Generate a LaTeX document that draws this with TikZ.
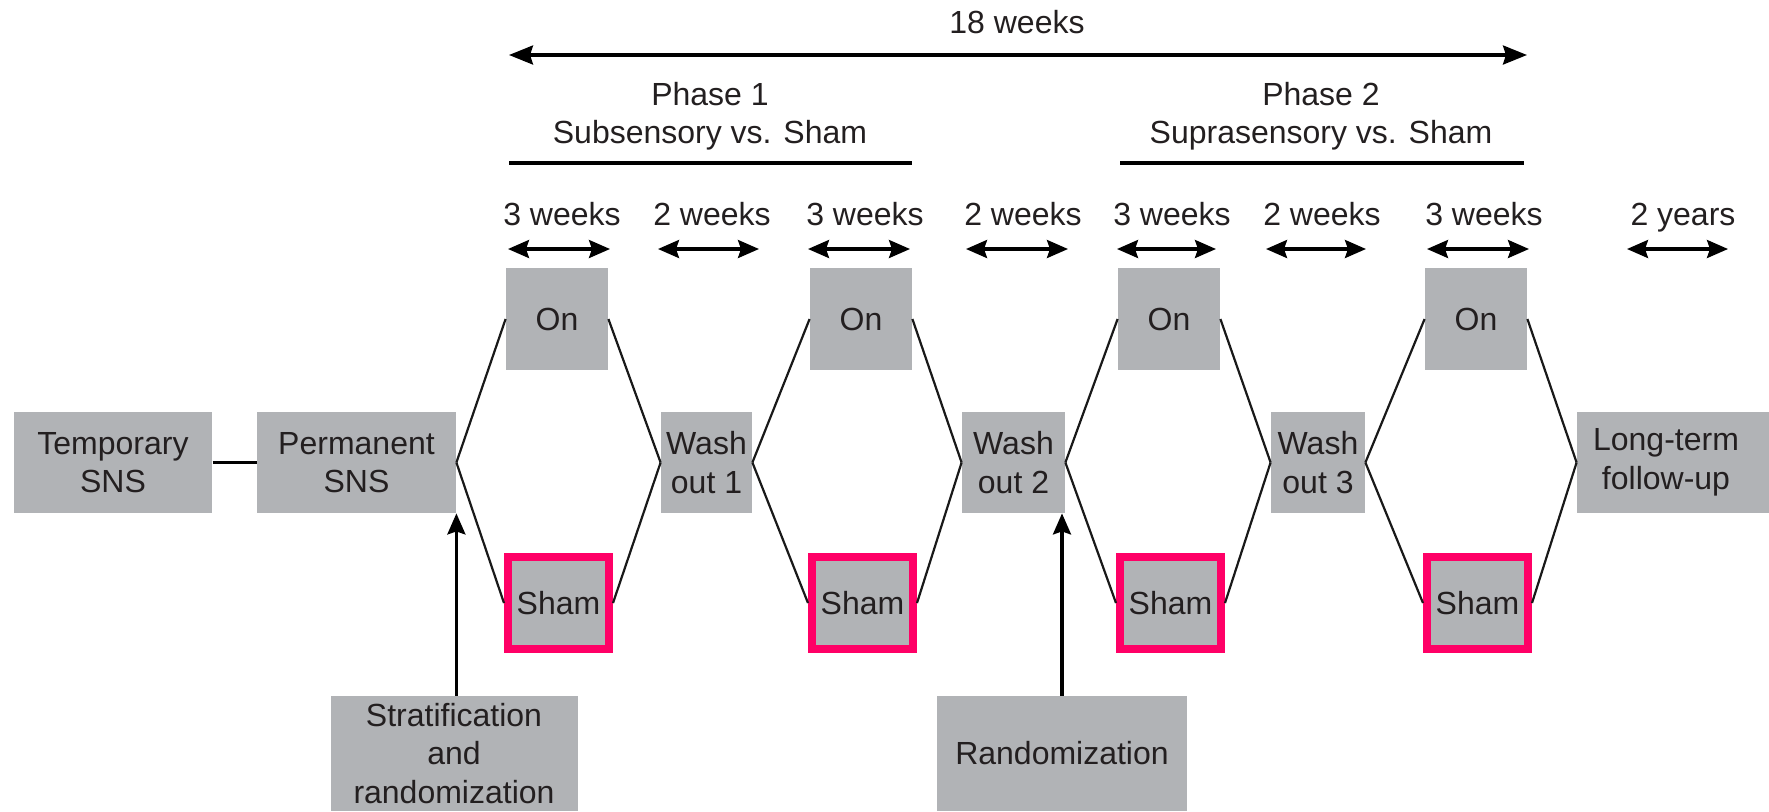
\documentclass[tikz,border=0pt]{standalone}
\usepackage{fontspec}
\setmainfont{Liberation Sans}
\usetikzlibrary{arrows.meta}
\definecolor{boxgray}{HTML}{B1B3B6}
\definecolor{shampink}{HTML}{FF0066}
\definecolor{txt}{HTML}{231F20}
\tikzset{
  box/.style={fill=boxgray, inner sep=0pt, align=center, text=txt,
    font=\fontsize{16}{19.25}\selectfont},
  onbox/.style={box, minimum width=51pt, minimum height=50.75pt},
  shambox/.style={box, draw=shampink, line width=4pt, minimum width=50.5pt, minimum height=46pt},
  midbox/.style={box, minimum height=50.5pt},
  lbl/.style={inner sep=0pt, anchor=base, text=txt, font=\fontsize{16}{19.25}\selectfont, align=center},
  link/.style={draw=black!90, line width=1.1pt},
  dur/.style={line width=1.6pt, {Stealth[length=10.5pt,width=9pt,inset=1.5pt]}-{Stealth[length=10.5pt,width=9pt,inset=1.5pt]}},
  big/.style={line width=1.6pt, {Stealth[length=12pt,width=9.5pt,inset=1.5pt]}-{Stealth[length=12pt,width=9.5pt,inset=1.5pt]}},
  upar/.style={line width=1.6pt, -{Stealth[length=10.5pt,width=9pt,inset=1.5pt]}},
  phaseline/.style={line width=1.6pt}
}
\begin{document}
\begin{tikzpicture}[x=0.5pt, y=-0.5pt]
\useasboundingbox (0,0) rectangle (1769,811);
\clip (0,0) rectangle (1769,811);

% top
\node[lbl] (w18) at (1017,33) {18 weeks};
\coordinate (a18l) at (509,55);
\coordinate (a18r) at (1527,55);
\draw[big] (a18l) -- (a18r);

\node[lbl] (ph1) at (710,105) {Phase 1};
\node[lbl] (ph1s) at (710,143) {Subsensory vs. Sham};
\coordinate (p1l) at (509,163);
\coordinate (p1r) at (912,163);
\draw[phaseline] (p1l) -- (p1r);

\node[lbl] (ph2) at (1321,105) {Phase 2};
\node[lbl] (ph2s) at (1321,143) {Suprasensory vs. Sham};
\coordinate (p2l) at (1120,163);
\coordinate (p2r) at (1524,163);
\draw[phaseline] (p2l) -- (p2r);

% durations
\node[lbl] (d1) at (562,225) {3 weeks};
\node[lbl] (d2) at (712,225) {2 weeks};
\node[lbl] (d3) at (865,225) {3 weeks};
\node[lbl] (d4) at (1023,225) {2 weeks};
\node[lbl] (d5) at (1172,225) {3 weeks};
\node[lbl] (d6) at (1322,225) {2 weeks};
\node[lbl] (d7) at (1484,225) {3 weeks};
\node[lbl] (d8) at (1683,225) {2 years};

\coordinate (e1a) at (508,249); \coordinate (e1b) at (610,249);
\coordinate (e2a) at (658,249); \coordinate (e2b) at (759,249);
\coordinate (e3a) at (808,249); \coordinate (e3b) at (910,249);
\coordinate (e4a) at (966,249); \coordinate (e4b) at (1068,249);
\coordinate (e5a) at (1117,249); \coordinate (e5b) at (1216,249);
\coordinate (e6a) at (1266,249); \coordinate (e6b) at (1366,249);
\coordinate (e7a) at (1427,249); \coordinate (e7b) at (1529,249);
\coordinate (e8a) at (1627,249); \coordinate (e8b) at (1728,249);
\foreach \i in {1,...,8}{\draw[dur] (e\i a) -- (e\i b);}

% on boxes
\node[onbox] (on1) at (557,319) {On};
\node[onbox] (on2) at (861,319) {On};
\node[onbox] (on3) at (1169,319) {On};
\node[onbox] (on4) at (1476,319) {On};

% sham boxes
\node[shambox] (sh1) at (558.5,603) {Sham};
\node[shambox] (sh2) at (862.5,603) {Sham};
\node[shambox] (sh3) at (1170.5,603) {Sham};
\node[shambox] (sh4) at (1477.5,603) {Sham};

% middle row
\node[midbox, minimum width=99.25pt] (temp) at (113,462.5) {Temporary\\SNS};
\node[midbox, minimum width=99.5pt] (perm) at (356.5,462.5) {Permanent\\SNS};
\node[midbox, minimum width=45.5pt] (wo1) at (706.5,462.5) {Wash\\out 1};
\node[midbox, minimum width=51.5pt] (wo2) at (1013.5,462.5) {Wash\\out 2};
\node[midbox, minimum width=47pt] (wo3) at (1318,462.5) {Wash\\out 3};
\node[midbox, minimum width=98pt, text width=86pt, inner xsep=0pt] (lt) at (1675,462.5) {\hspace*{-9pt}Long-term\\\hspace*{-9pt}follow-up};

% bottom boxes
\node[box, minimum width=123.5pt, minimum height=57.5pt] (strat) at (454,753.5) {Stratification\\and\\randomization};
\node[box, minimum width=125pt, minimum height=57.5pt] (rand) at (1062,753.5) {Randomization};

% connectors
\draw[line width=1.6pt] (temp) -- (perm);
\foreach \a/\o/\s/\b in {perm/on1/sh1/wo1, wo1/on2/sh2/wo2, wo2/on3/sh3/wo3, wo3/on4/sh4/lt}{
  \draw[link] (\a.east) -- (\o.west);
  \draw[link] (\a.east) -- (\s.west);
  \draw[link] (\o.east) -- (\b.west);
  \draw[link] (\s.east) -- (\b.west);
}
\draw[upar] (strat.north -| perm.south east) -- (perm.south east);
\draw[upar] (rand.north) -- (rand.north |- wo2.south);
\end{tikzpicture}
\end{document}
